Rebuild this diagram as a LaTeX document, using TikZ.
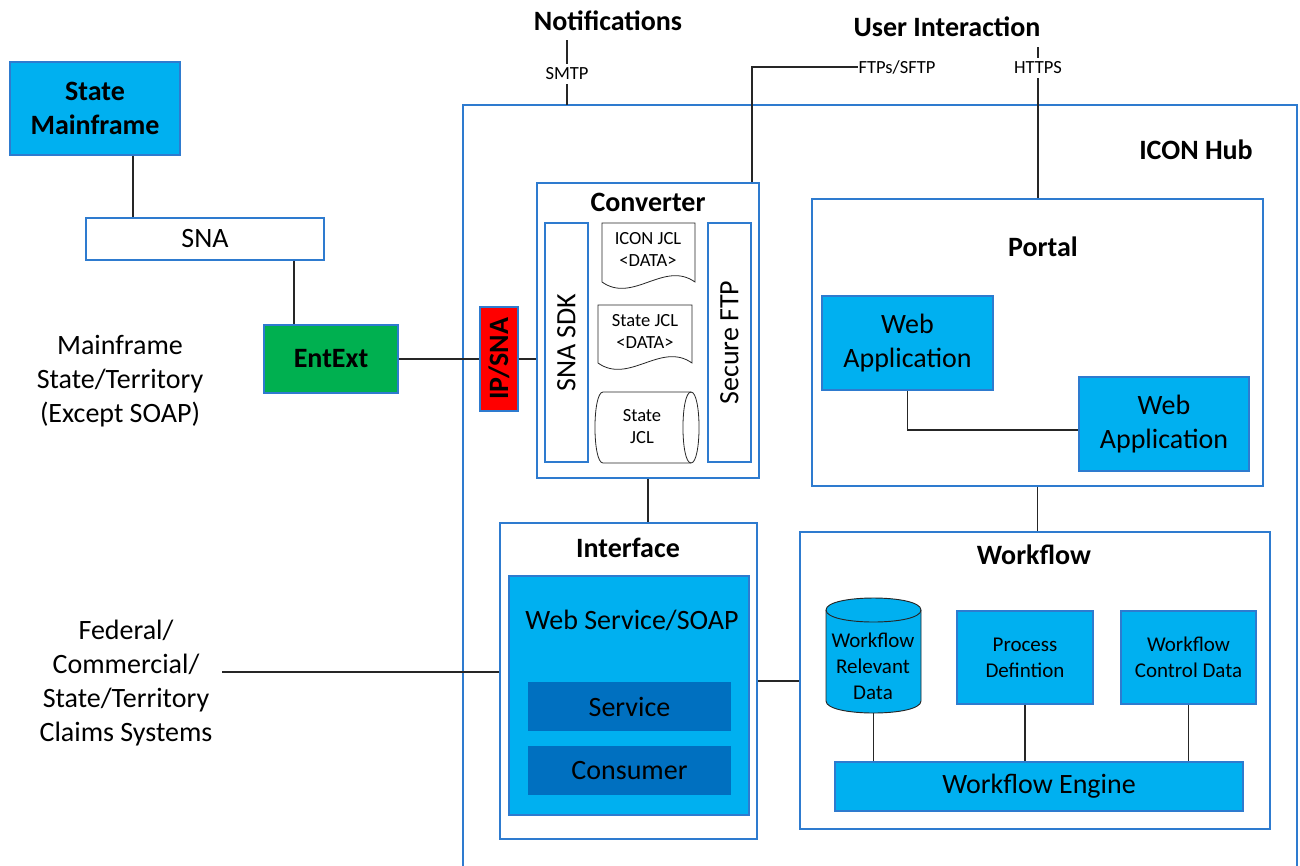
\documentclass[tikz,border=0pt]{standalone}
\usepackage{fontspec}
\setmainfont{Carlito}
\definecolor{bordc}{HTML}{2E7BCF}
\definecolor{cyanf}{HTML}{00B0F0}
\definecolor{darkf}{HTML}{0070C0}
\definecolor{greenf}{HTML}{00B050}
\definecolor{redf}{HTML}{FF0000}
\definecolor{linec}{HTML}{262626}
\newcommand\fL{\fontsize{21}{25.5}\selectfont}
\newcommand\fM{\fontsize{15.75}{19.5}\selectfont}
\newcommand\fS{\fontsize{13.9}{16.5}\selectfont}
\newcommand\DBox[7]{\node[#6, minimum width={(#4-#2)*0.75pt}, minimum height={(#5-#3)*0.75pt}] (#1) at ({(#2+#4)/2},{(#3+#5)/2}) {#7};}
\begin{document}
\begin{tikzpicture}[x=0.75pt, y=-0.75pt,
  box/.style={draw=bordc, line width=1.3pt, inner sep=0pt, align=center, font=\fL},
  container/.style={box, fill=white},
  cyanbox/.style={box, fill=cyanf},
  darkbox/.style={fill=darkf, inner sep=0pt, align=center, font=\fL},
  conn/.style={draw=linec, line width=1.3pt},
  title/.style={font=\fL\bfseries, inner sep=0pt},
  small/.style={font=\fS, inner sep=0pt, align=center},
  medium/.style={font=\fM, inner sep=0pt, align=center},
  big/.style={font=\fL, inner sep=0pt, align=center},
  thinshape/.style={draw=linec, line width=0.6pt, fill=white},
  cylshape/.style={draw=linec, line width=0.7pt, fill=cyanf}]
\useasboundingbox (0,0) rectangle (1300,865);

% ICON hub outline
\draw[draw=bordc, line width=1.3pt] (463,870) -- (463,105) -- (1297,105) -- (1297,870);
\node[title] (hublbl) at (1196,150) {ICON Hub};

% top labels
\node[title] (notif) at (608,21) {Notifications};
\node[title] (userint) at (947,27) {User Interaction};
\node[small] (smtp) at (567,74) {SMTP};
\node[small] (ftp) at (897,67) {FTPs/SFTP};
\node[small] (https) at (1038,68) {HTTPS};
\coordinate (smtptop) at (567,40);
\coordinate (httpstop) at (1038,47);

% left side
\DBox{sm}{10}{62}{180}{155}{cyanbox, font=\fL\bfseries}{State\\Mainframe}
\DBox{sna}{86}{218}{324}{260}{container}{SNA}
\DBox{ent}{264}{325}{398}{393}{box, fill=greenf, font=\fL\bfseries}{EntExt}
\node[big] (mflbl) at (120,381) {Mainframe\\State/Territory\\(Except SOAP)};
\node[big] (fedlbl) at (126,683) {Federal/\\Commercial/\\State/Territory\\Claims Systems};
\coordinate (fedend) at (222,672);

% IP/SNA
\DBox{ipsna}{480}{307}{518}{411}{box, fill=redf}{}
\node[title, rotate=90] (ipsnalbl) at (ipsna.center) {IP/SNA};

% Converter
\DBox{conv}{537}{183}{759}{478}{container}{}
\node[title] (convlbl) at (648,202) {Converter};
\DBox{sdk}{545}{223}{588}{462}{container}{}
\node[big, rotate=90] (sdklbl) at (sdk.center) {SNA SDK};
\DBox{sftp}{708}{223}{751}{462}{container}{}
\node[big, rotate=90] (sftplbl) at (sftp.center) {Secure FTP};
\draw[thinshape] (602,282) -- (602,223) -- (695,223) -- (695,282)
  .. controls (664,260) and (633,304) .. (602,282) -- cycle;
\node[small] (iconjcl) at (648,249) {ICON JCL\\<DATA>};
\draw[thinshape] (598,363) -- (598,305) -- (692,305) -- (692,363)
  .. controls (661,341) and (629,385) .. (598,363) -- cycle;
\node[small] (statejcl) at (645,331) {State JCL\\<DATA>};
\draw[thinshape] (603,392) -- (691,392) .. controls (701.7,392) and (701.7,463) .. (691,463)
  -- (603,463) .. controls (592.3,463) and (592.3,392) .. (603,392) -- cycle;
\draw[draw=linec, line width=0.6pt] (691,392) .. controls (680.3,392) and (680.3,463) .. (691,463);
\node[small] (jclcyl) at (642,427) {State\\JCL};

% Portal
\DBox{portal}{812}{199}{1263}{486}{container}{}
\node[title] (portallbl) at (1043,247) {Portal};
\DBox{wa1}{822}{296}{993}{390}{cyanbox}{Web\\Application}
\DBox{wa2}{1079}{377}{1249}{471}{cyanbox}{Web\\Application}

% Interface
\DBox{iface}{500}{523}{757}{839}{container}{}
\node[title] (ifacelbl) at (628,548) {Interface};
\DBox{ws}{509}{576}{749}{815}{cyanbox}{}
\node[big] (wslbl) at (632,620) {Web Service/SOAP};
\DBox{svc}{528}{682}{731}{731}{darkbox}{Service}
\DBox{cons}{528}{746}{731}{795}{darkbox}{Consumer}

% Workflow
\DBox{wf}{800}{532}{1270}{829}{container}{}
\node[title] (wflbl) at (1034,555) {Workflow};
\DBox{wrd}{826}{598}{921}{713}{inner sep=0pt}{}
\draw[cylshape] (826,610) -- (826,701) .. controls (826,717) and (921,717) .. (921,701)
  -- (921,610) .. controls (921,594) and (826,594) .. (826,610) -- cycle;
\draw[draw=linec, line width=0.7pt] (826,610) .. controls (826,626) and (921,626) .. (921,610);
\node[medium] (wrdlbl) at (873,666) {Workflow\\Relevant\\Data};
\DBox{pd}{957}{611}{1093}{704}{cyanbox, font=\fM}{Process\\Defintion}
\DBox{wcd}{1121}{611}{1256}{704}{cyanbox, font=\fM}{Workflow\\Control Data}
\DBox{we}{835}{762}{1243}{811}{cyanbox}{Workflow Engine}

% connectors
\draw[conn] (sm.south -| 133,0) -- (sna.north -| 133,0);
\draw[conn] (sna.south -| 294,0) -- (ent.north -| 294,0);
\draw[conn] (ent.east) -- (ipsna.west);
\draw[conn] (ipsna.east) -- (ipsna.east -| conv.west);
\draw[conn] (smtptop) -- ([yshift=3pt]smtp.north);
\draw[conn] ([yshift=-3pt]smtp.south) -- (smtp.south |- 0,105);
\draw[conn] (conv.north -| 752,0) |- (ftp.west);
\draw[conn] (httpstop) -- ([yshift=3pt]https.north);
\draw[conn] ([yshift=-3pt]https.south) -- (https.south |- portal.north);
\draw[conn] (wa1.south) |- ([yshift=-4.5pt]wa2.west);
\draw[conn] (portal.south) -- (portal.south |- wf.north);
\draw[conn] (conv.south) -- (conv.south |- iface.north);
\draw[conn] (iface.east) -- (iface.east -| wf.west);
\draw[conn] (fedend) -- (fedend -| iface.west);
\draw[conn] (wrd.south) -- (wrd.south |- we.north);
\draw[conn] (pd.south) -- (pd.south |- we.north);
\draw[conn] (wcd.south) -- (wcd.south |- we.north);
\end{tikzpicture}
\end{document}
